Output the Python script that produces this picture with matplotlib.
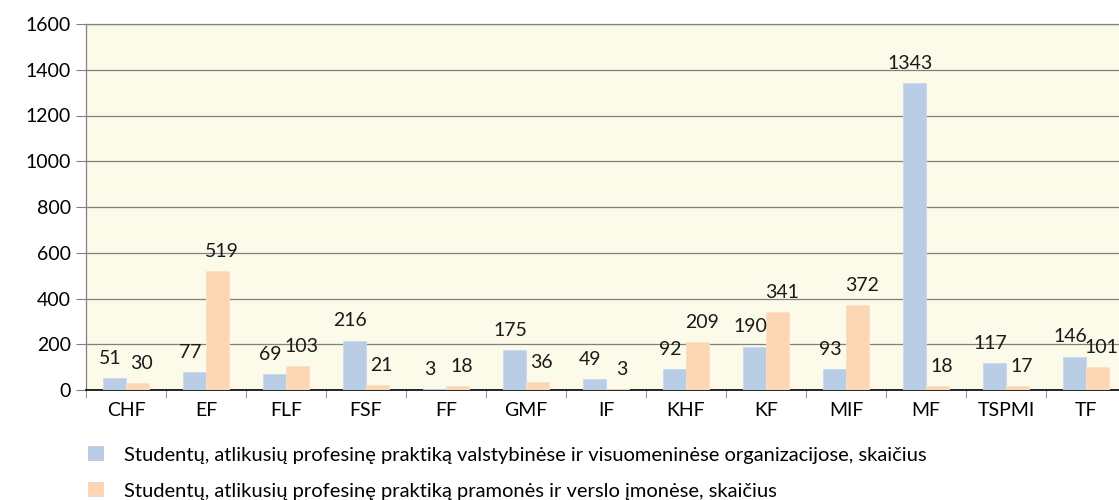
import matplotlib.pyplot as plt
import numpy as np
from matplotlib.patches import Patch

plt.rcParams['font.family'] = ['Lato', 'DejaVu Sans']

categories = ["CHF", "EF", "FLF", "FSF", "FF", "GMF", "IF", "KHF", "KF", "MIF", "MF", "TSPMI", "TF"]
valst = [51, 77, 69, 216, 3, 175, 49, 92, 190, 93, 1343, 117, 146]
pramon = [30, 519, 103, 21, 18, 36, 3, 209, 341, 372, 18, 17, 101]
labels = [
    "Studentų, atlikusių profesinę praktiką valstybinėse ir visuomeninėse organizacijose, skaičius",
    "Studentų, atlikusių profesinę praktiką pramonės ir verslo įmonėse, skaičius",
]

blue = "#B9CDE5"
orange = "#FCD5B5"

fig = plt.figure(figsize=(11.19, 5), dpi=100)
ax = fig.add_axes([86 / 1119, 110 / 500, 1040 / 1119, 366 / 500])
ax.set_facecolor("#FCFAE9")

x = np.arange(len(categories))
w = 0.29
ax.bar(x - w / 2, valst, w, color=blue, edgecolor="#C8D8EC", linewidth=0.6, zorder=3)
ax.bar(x + w / 2, pramon, w, color=orange, edgecolor="#FDE0C8", linewidth=0.6, zorder=3)

for xi, v in zip(x - w / 2, valst):
    ax.annotate(str(v), (xi, v), xytext=(-3, 8), textcoords="offset points",
                ha="center", va="bottom", fontsize=14, color="#1a1a1a", zorder=4)
for xi, v in zip(x + w / 2, pramon):
    ax.annotate(str(v), (xi, v), xytext=(3, 8), textcoords="offset points",
                ha="center", va="bottom", fontsize=14, color="#1a1a1a", zorder=4)

ax.set_xlim(-0.5, len(categories) - 0.5)
ax.set_ylim(0, 1600)
ax.set_yticks(range(0, 1601, 200))
ax.yaxis.grid(True, color="#808080", linewidth=0.9, zorder=1)
ax.set_axisbelow(True)

ax.set_xticks(x)
ax.set_xticklabels(categories, fontsize=14)
ax.set_xticks(np.arange(-0.5, len(categories), 1), minor=True)
ax.tick_params(axis="x", which="major", length=0, pad=9)
ax.tick_params(axis="x", which="minor", length=6, color="#808080")
ax.tick_params(axis="y", length=7, color="#808080", labelsize=14, pad=4)

for s in ["top", "right", "left"]:
    ax.spines[s].set_color("#808080")
    ax.spines[s].set_linewidth(0.9)
ax.spines["bottom"].set_color("#000000")
ax.spines["bottom"].set_linewidth(1.2)

handles = [Patch(facecolor=blue, edgecolor="none"), Patch(facecolor=orange, edgecolor="none")]
fig.legend(handles, labels, loc="upper left", bbox_to_anchor=(80 / 1119, 1 - 438 / 500),
           frameon=False, fontsize=14.5, handlelength=0.8, handleheight=0.8,
           handletextpad=1.0, labelspacing=0.9, borderaxespad=0)

fig.savefig("out.png", dpi=100)
